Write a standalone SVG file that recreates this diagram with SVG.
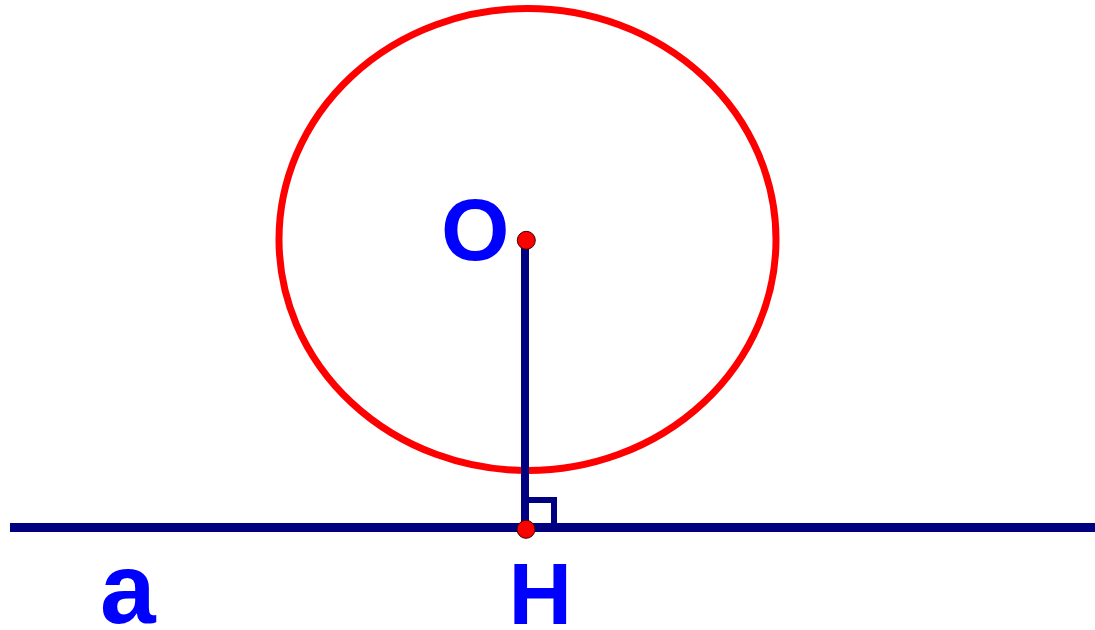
<svg xmlns="http://www.w3.org/2000/svg" width="1095" height="630" viewBox="0 0 1095 630">
<style>
.lbl{font-family:"Liberation Sans",Arial,sans-serif;font-weight:bold;fill:#0000ff}
.ln{stroke:#000080;fill:none}
.pt{fill:#ff0000;stroke:#3a0000;stroke-width:1}
</style>
<rect width="1095" height="630" fill="#ffffff"/>
<g id="circle">
<ellipse cx="527.5" cy="239.5" rx="248.5" ry="231" fill="none" stroke="#ff0000" stroke-width="7"/>
</g>
<g id="connectors">
<line class="ln" x1="10" y1="527.5" x2="1095" y2="527.5" stroke-width="9"/>
<line class="ln" x1="525" y1="240" x2="525" y2="527" stroke-width="8"/>
<polyline class="ln" points="528,500 554,500 554,527" stroke-width="6"/>
</g>
<g id="O">
<circle class="pt" cx="526.3" cy="240.3" r="9"/>
<text class="lbl" x="441" y="260" font-size="88">O</text>
</g>
<g id="H">
<circle class="pt" cx="526" cy="529.3" r="9"/>
<text class="lbl" x="508.6" y="624" font-size="88">H</text>
</g>
<g id="a">
<text class="lbl" x="100" y="623" font-size="100">a</text>
</g>
</svg>
